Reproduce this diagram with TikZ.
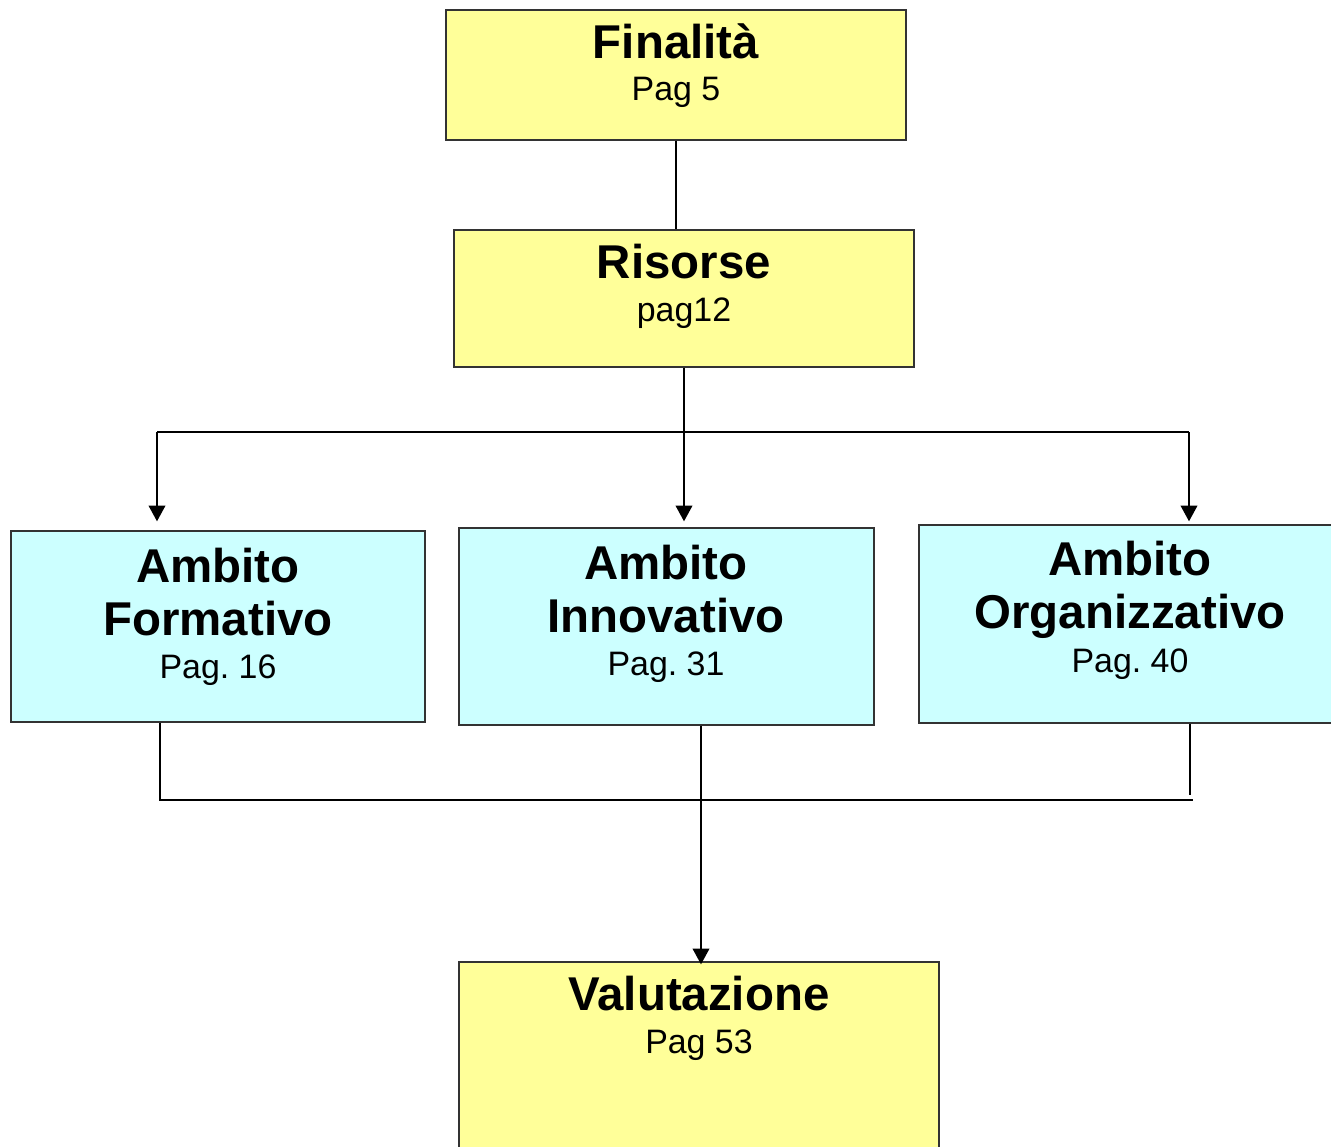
\documentclass[tikz,border=0pt]{standalone}
\usepackage{fontspec}
\setmainfont{Liberation Sans}
\frenchspacing
\usetikzlibrary{arrows.meta}
\definecolor{boxyellow}{HTML}{FFFF99}
\definecolor{boxcyan}{HTML}{CCFFFF}
\tikzset{>={Triangle[length=9pt,width=9.5pt]}}
\tikzstyle{ybox} = [rectangle, draw=black!80, line width=0.8pt, fill=boxyellow, inner sep=0]
\tikzstyle{cbox} = [rectangle, draw=black!80, line width=0.8pt, fill=boxcyan, inner sep=0]
\tikzstyle{ttl} = [inner sep=0, align=center, font=\fontsize{27}{30}\selectfont\bfseries]
\tikzstyle{pg} = [inner sep=0, font=\fontsize{19.3}{22}\selectfont]
\tikzstyle{link} = [draw=black, line width=1.1pt]

\begin{document}
\begin{tikzpicture}[x=0.02cm, y=-0.02cm]
\useasboundingbox (0,0) rectangle (1331,1146);
\clip (0,0) rectangle (1331,1146);
% boxes
\node [ybox, minimum width=9.2cm, minimum height=2.6cm] (fin) at (676,75) {};
\node [ybox, minimum width=9.2cm, minimum height=2.74cm] (ris) at (684,298.5) {};
\node [cbox, minimum width=8.28cm, minimum height=3.82cm] (form) at (218,626.5) {};
\node [cbox, minimum width=8.3cm, minimum height=3.94cm] (innov) at (666.5,626.5) {};
\node [cbox, minimum width=8.44cm, minimum height=3.96cm] (org) at (1130,624) {};
\node [ybox, minimum width=9.6cm, minimum height=4.2cm] (val) at (699,1067) {};
% texts (base = last line)
\node [ttl, anchor=base] (finT) at (676,58) {Finalità};
\node [pg, anchor=base] (finP) at (676,100) {Pag 5};
\node [ttl, anchor=base] (risT) at (684,278) {Risorse};
\node [pg, anchor=base] (risP) at (684,321) {pag12};
\node [ttl, anchor=base] (formT) at (218,635) {Ambito\\Formativo};
\node [pg, anchor=base] (formP) at (218,678) {Pag. 16};
\node [ttl, anchor=base] (innovT) at (666,632) {Ambito\\Innovativo};
\node [pg, anchor=base] (innovP) at (666,675) {Pag. 31};
\node [ttl, anchor=base] (orgT) at (1130,628) {Ambito\\Organizzativo};
\node [pg, anchor=base] (orgP) at (1130,672) {Pag. 40};
\node [ttl, anchor=base] (valT) at (699,1010) {Valutazione};
\node [pg, anchor=base] (valP) at (699,1053) {Pag 53};
% connectors
\coordinate (busL) at (157,432);
\coordinate (busR) at (1189,432);
\coordinate (jL) at (160,800);
\coordinate (jR) at (1190,800);
\coordinate (mid) at (701,800);
\draw [link] (fin.south) -- (fin.south |- ris.north);
\draw [link] (ris.south) -- (ris.south |- busL);
\draw [link] (busL) -- (busR);
\draw [link, ->, shorten >=0.18cm] (busL) -- (busL |- form.north);
\draw [link, ->, shorten >=0.12cm] (ris.south |- busL) -- (ris.south |- innov.north);
\draw [link, ->, shorten >=0.06cm] (busR) -- (busR |- org.north);
\draw [link] (jL |- form.south) -- (jL) -- ([xshift=0.06cm]jR);
\draw [link] (jR |- org.south) -- ([yshift=0.1cm]jR);
\draw [link, ->, shorten >=-0.06cm] (mid |- innov.south) -- (mid |- val.north);
\end{tikzpicture}
\end{document}
